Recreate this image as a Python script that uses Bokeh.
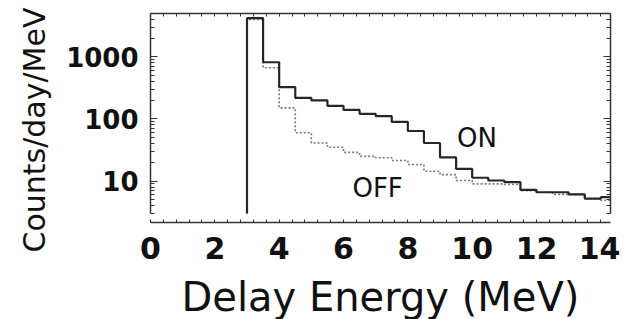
from bokeh.plotting import figure
from bokeh.models import LogAxis, LinearAxis, FixedTicker, Range1d, Label, Title, ColumnDataSource
from bokeh.embed import file_html
from bokeh.resources import INLINE

# ---- data ----
bin_lo = [3.0, 3.5, 4.0, 4.5, 5.0, 5.5, 6.0, 6.5, 7.0, 7.5, 8.0, 8.5,
          9.0, 9.5, 10.0, 10.5, 11.0, 11.5, 12.0, 12.5, 13.0, 13.5, 14.0]
bin_width = 0.5
on_counts = [4200, 820, 325, 219, 199, 163, 140, 121, 111, 90, 64, 41,
             24, 15.7, 11.3, 10.2, 9.6, 7.2, 6.6, 6.6, 6.1, 5.2, 5.5]
off_counts = [4000, 670, 151, 60, 41, 35, 29, 25, 23.7, 21.4, 18.5, 14.4,
              12.7, 10.2, 9.0, 9.0, 8.8, 7.0, 6.6, 6.1, 6.1, 5.2, 4.9]
y_floor = 3.0          # lower limit of the original y axis
y_top = 5000.0
x_tick_values = [0, 2, 4, 6, 8, 10, 12, 14]
y_tick_values = [10, 100, 1000]
y_tick_labels = ["10", "100", "1000"]
x_title = "Delay Energy (MeV)"
y_title = "Counts/day/MeV"
series_labels = ["ON", "OFF"]

FONT = "DejaVu Sans"
INK = "#111111"
AX = "#333333"


def step_source(lo, counts, width, floor):
    xs = [lo[0]] + list(lo) + [lo[-1] + width]
    ys = [floor] + list(counts) + [counts[-1]]
    return ColumnDataSource(dict(x=xs, y=ys))


p = figure(width=620, height=330,
           x_range=Range1d(0, 14.3), y_range=Range1d(2.15, y_top),
           y_axis_type="log",
           output_backend="svg", toolbar_location=None,
           min_border_left=150, min_border_right=10,
           min_border_top=13, min_border_bottom=108)
p.outline_line_color = None
p.xgrid.visible = False
p.ygrid.visible = False
p.background_fill_color = "white"
p.border_fill_color = "white"

off_src = step_source(bin_lo, off_counts, bin_width, y_floor)
on_src = step_source(bin_lo, on_counts, bin_width, y_floor)
p.step("x", "y", source=off_src, mode="after", line_color="#777777",
       line_width=1.6, line_dash="2 2")
p.step("x", "y", source=on_src, mode="after", line_color="#262626",
       line_width=2.2)

# frame tick marks
x_minor = [round(0.4 * k, 2) for k in range(0, 36)]
y_minor = []
for dec in [1, 10, 100, 1000]:
    for m in range(2, 10):
        v = m * dec
        if y_floor <= v <= y_top:
            y_minor.append(v)

# bottom axis (labels)
xa = p.xaxis[0]
xa.ticker = FixedTicker(ticks=x_tick_values, minor_ticks=x_minor)
xa.major_tick_in = 0
xa.major_tick_out = 0
xa.minor_tick_in = 3
xa.minor_tick_out = 0
xa.axis_line_width = 1.5
xa.axis_line_color = AX
xa.minor_tick_line_color = AX
xa.major_label_text_font = FONT
xa.major_label_text_font_style = "bold"
xa.major_label_text_font_size = "30px"
xa.major_label_text_color = INK
xa.major_label_standoff = 14
xa.axis_label = x_title
xa.axis_label_text_font = FONT
xa.axis_label_text_font_style = "normal"
xa.axis_label_text_font_size = "40px"
xa.axis_label_text_color = INK
xa.axis_label_standoff = 12

# top axis (ticks only)
ta = LinearAxis(ticker=FixedTicker(ticks=[], minor_ticks=x_minor),
                major_tick_in=0, major_tick_out=0,
                minor_tick_in=3, minor_tick_out=0,
                axis_line_width=1.5, axis_line_color=AX,
                minor_tick_line_color=AX)
p.add_layout(ta, "above")

# left axis
ya = p.yaxis[0]
ya.ticker = FixedTicker(ticks=y_tick_values, minor_ticks=y_minor)
ya.bounds = (y_floor, y_top)
ya.major_label_overrides = dict(zip(y_tick_values, y_tick_labels))
ya.major_tick_in = 7
ya.major_tick_out = 0
ya.minor_tick_in = 4
ya.minor_tick_out = 0
ya.axis_line_width = 1.5
ya.axis_line_color = AX
ya.major_tick_line_color = AX
ya.minor_tick_line_color = AX
ya.major_label_text_font = FONT
ya.major_label_text_font_style = "bold"
ya.major_label_text_font_size = "26px"
ya.major_label_text_color = INK
ya.major_label_standoff = 12

# y title as a side title, starting a little below the frame bottom
yt = Title(text=y_title, align="left", offset=-30, standoff=24,
           text_font=FONT, text_font_size="30px", text_font_style="normal",
           text_color=INK)
p.add_layout(yt, "left")

# right axis (ticks only)
ra = LogAxis(ticker=FixedTicker(ticks=y_tick_values, minor_ticks=y_minor),
             bounds=(y_floor, y_top),
             major_tick_in=7, major_tick_out=0,
             minor_tick_in=4, minor_tick_out=0,
             axis_line_width=1.5, axis_line_color=AX,
             major_tick_line_color=AX, minor_tick_line_color=AX,
             major_label_overrides={v: "" for v in y_tick_values},
             major_label_standoff=0)
p.add_layout(ra, "right")

p.add_layout(Label(x=10.15, y=50, text=series_labels[0], text_align="center",
                   text_baseline="middle", text_font=FONT,
                   text_font_size="26px", text_color=INK))
p.add_layout(Label(x=7.06, y=7.6, text=series_labels[1], text_align="center",
                   text_baseline="middle", text_font=FONT,
                   text_font_size="26px", text_color=INK))

open("out.html", "w").write(file_html(p, INLINE))
